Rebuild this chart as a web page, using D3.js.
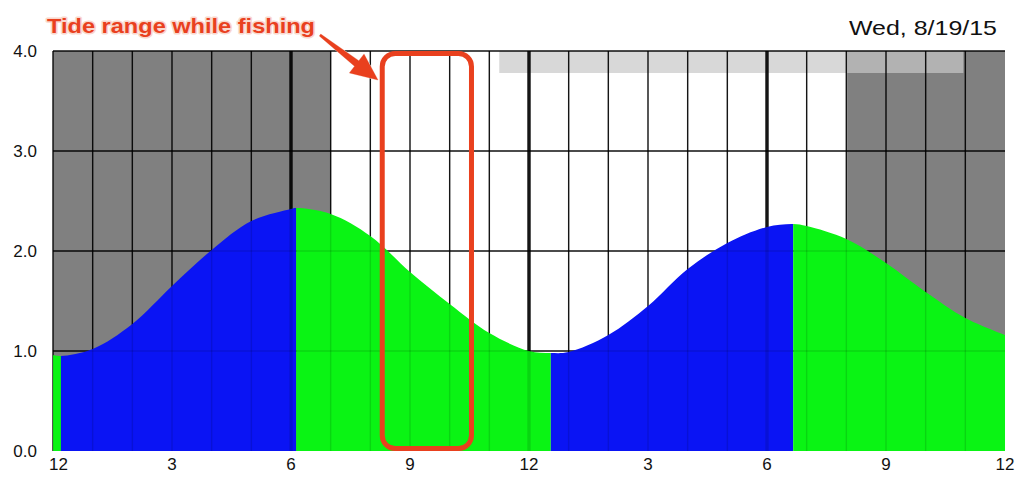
<!DOCTYPE html>
<html><head><meta charset="utf-8">
<script src="https://cdn.jsdelivr.net/npm/d3@7"></script>
<style>
body{margin:0;background:#fff}
svg{display:block;font-family:"Liberation Sans",Arial,Helvetica,sans-serif}
</style>
</head><body>
<svg id="c" width="1024" height="488"></svg>
<script>
// ---- data ----
const title = "Wed, 8/19/15";
const annotationText = "Tide range while fishing";
const tideHours   = [0, 0.2, 1, 2, 3, 4, 5, 6, 6.13, 7, 8, 9, 10, 11, 12, 12.55, 13, 14, 15, 16, 17, 18, 18.66, 19, 20, 21, 22, 23, 24];
const tideHeights = [0.96, 0.95, 1.02, 1.27, 1.65, 2.01, 2.30, 2.42, 2.43, 2.37, 2.15, 1.79, 1.47, 1.18, 1.00, 0.98, 0.99, 1.16, 1.45, 1.82, 2.08, 2.24, 2.27, 2.25, 2.12, 1.88, 1.59, 1.33, 1.16];
const extremeHours = [0.2, 6.13, 12.55, 18.66];
const nightRanges = [[0, 7.0], [20.02, 24]];
const moonRange = [11.25, 22.95];
const fishingRange = [8.3, 10.55];
const xTickHours = [0, 3, 6, 9, 12, 15, 18, 21, 24];
const xTickLabels = ["12", "3", "6", "9", "12", "3", "6", "9", "12"];
const yTicks = [0, 1, 2, 3, 4];
const yTickLabels = ["0.0", "1.0", "2.0", "3.0", "4.0"];
const gridHours = d3.range(0, 24);
const majorHours = [6, 12, 18];

// ---- layout ----
const svg = d3.select("#c");
const x = d3.scaleLinear().domain([0, 24]).range([53, 1005]);
const y = d3.scaleLinear().domain([0, 4]).range([451, 51]);
const BLUE = "#0a14f4", GREEN = "#0af414", RED = "#e9401e";

// background night
svg.append("g").selectAll("rect").data(nightRanges).join("rect")
  .attr("x", d => x(d[0])).attr("width", d => x(d[1]) - x(d[0]))
  .attr("y", y(4)).attr("height", y(0) - y(4))
  .attr("fill", "#808080");

// moon band
svg.append("rect")
  .attr("x", x(moonRange[0])).attr("width", x(moonRange[1]) - x(moonRange[0]))
  .attr("y", y(4)).attr("height", 22)
  .attr("fill", "rgb(200,200,200)").attr("fill-opacity", 0.7);

function drawGrid(g, opacity) {
  g.selectAll("line.v").data(gridHours).join("line").attr("class", "v")
    .attr("x1", d => x(d)).attr("x2", d => x(d))
    .attr("y1", y(4)).attr("y2", y(0))
    .attr("stroke", "#000").attr("stroke-opacity", opacity)
    .attr("stroke-width", d => majorHours.includes(d) ? 3.4 : 1.4);
  g.selectAll("line.h").data(yTicks.filter(d => d > 0)).join("line").attr("class", "h")
    .attr("x1", x(0)).attr("x2", x(24))
    .attr("y1", d => y(d)).attr("y2", d => y(d))
    .attr("stroke", "#000").attr("stroke-opacity", opacity)
    .attr("stroke-width", 1.4);
}
drawGrid(svg.append("g"), 0.9);

// tide
const tide = tideHours.map((h, i) => ({h, v: tideHeights[i]}));
const area = d3.area().x(d => x(d.h)).y0(y(0)).y1(d => y(d.v)).curve(d3.curveCatmullRom.alpha(0.5));
const bounds = [0, ...extremeHours, 24];
const valAt = h => tideHeights[tideHours.indexOf(h)];
const defs = svg.append("defs");
bounds.slice(0, -1).forEach((b0, i) => {
  const b1 = bounds[i + 1];
  const rising = valAt(b1) > valAt(b0);
  defs.append("clipPath").attr("id", "seg" + i).append("rect")
    .attr("x", x(b0)).attr("width", x(b1) - x(b0)).attr("y", 0).attr("height", 488);
  svg.append("path").datum(tide).attr("d", area)
    .attr("fill", rising ? BLUE : GREEN)
    .attr("clip-path", "url(#seg" + i + ")");
});

// faint grid visible through the fill
drawGrid(svg.append("g"), 0.12);

// axes labels
svg.append("g").selectAll("text").data(yTicks).join("text")
  .attr("x", 37).attr("y", d => y(d) + 2)
  .attr("text-anchor", "end").attr("dominant-baseline", "middle")
  .attr("font-size", 17).attr("fill", "#111")
  .text((d, i) => yTickLabels[i]);

svg.append("g").selectAll("text").data(xTickHours).join("text")
  .attr("x", (d, i) => i === 0 ? x(d) - 4 : x(d))
  .attr("y", 470)
  .attr("text-anchor", (d, i) => i === 0 ? "start" : "middle")
  .attr("font-size", 17).attr("fill", "#111")
  .text((d, i) => xTickLabels[i]);

// title
svg.append("text").attr("x", 997).attr("y", 35).attr("text-anchor", "end")
  .attr("font-size", 21).attr("fill", "#111")
  .attr("textLength", 148).attr("lengthAdjust", "spacingAndGlyphs")
  .text(title);

// fishing rectangle
svg.append("rect")
  .attr("x", x(fishingRange[0])).attr("width", x(fishingRange[1]) - x(fishingRange[0]))
  .attr("y", y(4) + 2.5).attr("height", y(0) - y(4) - 5)
  .attr("rx", 13).attr("ry", 13)
  .attr("fill", "none").attr("stroke", RED).attr("stroke-width", 5);

// annotation arrow
(function() {
  const sx = 320, sy = 35, tx = 378, ty = 80;
  const dx = tx - sx, dy = ty - sy, L = Math.hypot(dx, dy);
  const ux = dx / L, uy = dy / L, px = -uy, py = ux;
  const headLen = 27, headW = 12, w0 = 1.2, w1 = 3.5;
  const bx = tx - ux * headLen, by = ty - uy * headLen;
  const pts = [
    [sx + px * w0, sy + py * w0],
    [bx + px * w1, by + py * w1],
    [bx + px * headW, by + py * headW],
    [tx, ty],
    [bx - px * headW, by - py * headW],
    [bx - px * w1, by - py * w1],
    [sx - px * w0, sy - py * w0]
  ];
  svg.append("path").attr("d", "M" + pts.map(p => p.join(",")).join("L") + "Z")
    .attr("fill", RED).attr("stroke", "#f6d0c4").attr("stroke-width", 1)
    .attr("paint-order", "stroke");
})();

svg.append("text").attr("x", 47).attr("y", 33)
  .attr("font-size", 21).attr("font-weight", "bold")
  .attr("fill", RED).attr("stroke", "#f9d8ce").attr("stroke-width", 3)
  .attr("stroke-linejoin", "round").attr("paint-order", "stroke")
  .attr("textLength", 268).attr("lengthAdjust", "spacingAndGlyphs")
  .text(annotationText);
</script>
</body></html>
